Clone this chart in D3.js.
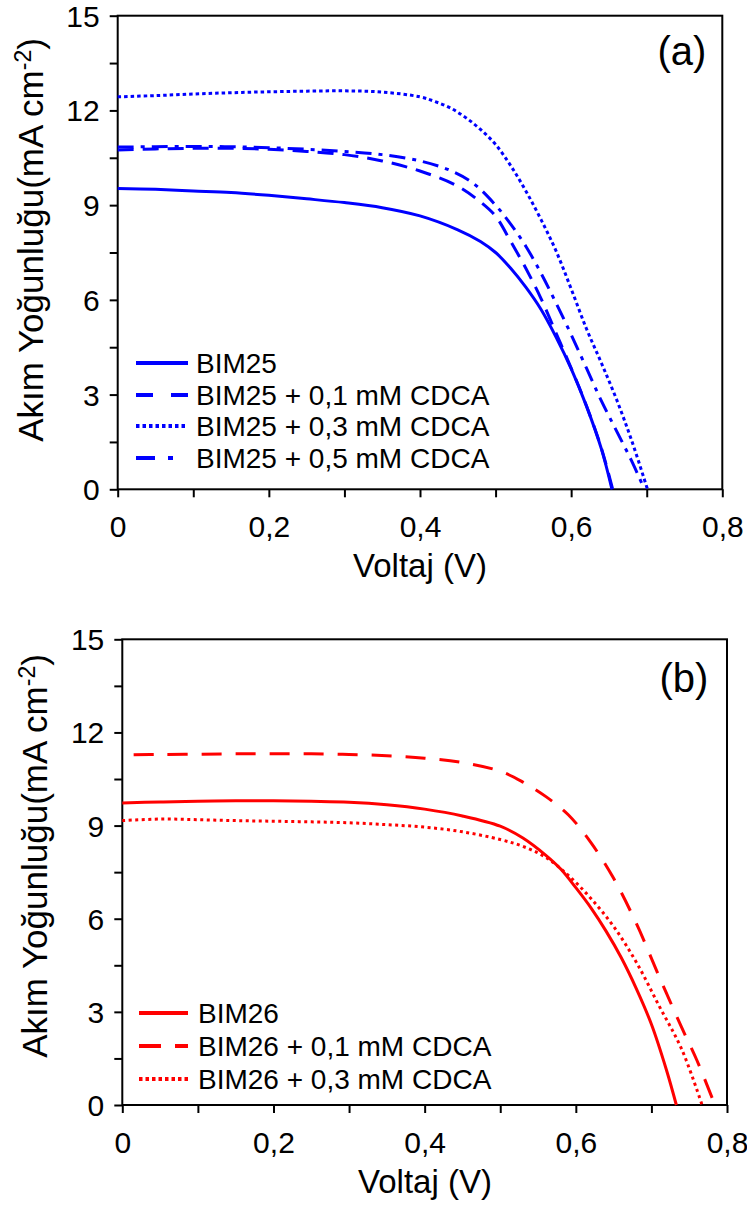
<!DOCTYPE html>
<html><head><meta charset="utf-8">
<script src="https://cdn.jsdelivr.net/npm/d3@7"></script>
<style>body{margin:0;background:#fff}svg{display:block}text{font-family:"Liberation Sans",Arial,sans-serif;fill:#000}</style>
</head><body>
<script>
// ---- data ----
const yTicks = [0, 3, 6, 9, 12, 15];
const yMinorTicks = [1.5, 4.5, 7.5, 10.5, 13.5];
const xTicks = [0, 0.2, 0.4, 0.6, 0.8];
const xTickLabels = ["0", "0,2", "0,4", "0,6", "0,8"];
const xMinorTicks = [0.1, 0.3, 0.5, 0.7];

// panel (a)
const vBIM25 = [0, 0.05, 0.10, 0.15, 0.20, 0.25, 0.30, 0.35, 0.40, 0.45, 0.48, 0.50, 0.52, 0.54, 0.56, 0.58, 0.60, 0.62, 0.64, 0.654];
const jBIM25 = [9.53, 9.50, 9.45, 9.40, 9.31, 9.20, 9.08, 8.92, 8.66, 8.22, 7.85, 7.50, 7.00, 6.40, 5.70, 4.82, 3.82, 2.65, 1.28, 0];
const vBIM25_01 = [0, 0.05, 0.10, 0.15, 0.20, 0.25, 0.30, 0.35, 0.40, 0.45, 0.48, 0.50, 0.52, 0.54, 0.56, 0.58, 0.60, 0.62, 0.64, 0.655];
const jBIM25_01 = [10.75, 10.78, 10.80, 10.80, 10.77, 10.70, 10.60, 10.40, 10.08, 9.60, 9.10, 8.65, 7.85, 7.00, 6.05, 4.95, 3.84, 2.66, 1.30, 0];
const vBIM25_03 = [0, 0.05, 0.10, 0.15, 0.20, 0.25, 0.30, 0.35, 0.40, 0.42, 0.44, 0.46, 0.48, 0.50, 0.52, 0.54, 0.56, 0.58, 0.60, 0.62, 0.64, 0.66, 0.68, 0.701];
const jBIM25_03 = [12.43, 12.47, 12.52, 12.56, 12.59, 12.61, 12.62, 12.58, 12.43, 12.28, 12.08, 11.78, 11.40, 10.92, 10.25, 9.45, 8.55, 7.55, 6.35, 5.10, 4.00, 2.85, 1.55, 0];
const vBIM25_05 = [0, 0.05, 0.10, 0.15, 0.20, 0.25, 0.30, 0.35, 0.40, 0.44, 0.47, 0.50, 0.52, 0.54, 0.56, 0.58, 0.60, 0.62, 0.64, 0.66, 0.68, 0.697];
const jBIM25_05 = [10.84, 10.85, 10.86, 10.85, 10.82, 10.77, 10.70, 10.60, 10.40, 10.10, 9.70, 9.00, 8.40, 7.70, 6.85, 5.90, 4.90, 3.85, 2.80, 1.85, 0.90, 0];

// panel (b)
const vBIM26 = [0, 0.05, 0.10, 0.15, 0.20, 0.25, 0.30, 0.35, 0.40, 0.45, 0.50, 0.53, 0.56, 0.58, 0.60, 0.62, 0.64, 0.66, 0.68, 0.70, 0.72, 0.733];
const jBIM26 = [9.73, 9.76, 9.78, 9.80, 9.80, 9.78, 9.75, 9.67, 9.53, 9.31, 8.98, 8.60, 8.05, 7.60, 7.00, 6.35, 5.60, 4.75, 3.75, 2.60, 1.12, 0];
const vBIM26_01 = [0.015, 0.05, 0.10, 0.15, 0.20, 0.25, 0.30, 0.35, 0.40, 0.45, 0.50, 0.53, 0.56, 0.59, 0.62, 0.65, 0.68, 0.71, 0.74, 0.76, 0.784];
const jBIM26_01 = [11.28, 11.29, 11.30, 11.31, 11.31, 11.31, 11.29, 11.25, 11.17, 11.03, 10.75, 10.40, 9.94, 9.35, 8.45, 7.30, 5.85, 4.15, 2.50, 1.45, 0];
const vBIM26_03 = [0, 0.05, 0.10, 0.15, 0.20, 0.25, 0.30, 0.35, 0.40, 0.45, 0.50, 0.53, 0.56, 0.59, 0.62, 0.65, 0.68, 0.71, 0.74, 0.767];
const jBIM26_03 = [9.16, 9.21, 9.19, 9.16, 9.14, 9.12, 9.09, 9.03, 8.95, 8.80, 8.55, 8.33, 7.98, 7.40, 6.65, 5.75, 4.60, 3.20, 1.80, 0];

const namesA = ["BIM25", "BIM25 + 0,1 mM CDCA", "BIM25 + 0,3 mM CDCA", "BIM25 + 0,5 mM CDCA"];
const namesB = ["BIM26", "BIM26 + 0,1 mM CDCA", "BIM26 + 0,3 mM CDCA"];

// ---- drawing ----
const svg = d3.select("body").append("svg").attr("width", 747).attr("height", 1209);

const dashSolid = null, dashDash = "16 9", dashDot = "3.5 3", dashDashDot = "16 7 4 7";

function panel(cfg) {
  const x = d3.scaleLinear().domain([0, 0.8]).range([cfg.left, cfg.right]);
  const y = d3.scaleLinear().domain([0, 15]).range([cfg.bottom, cfg.top]);
  const g = svg.append("g");

  const ya = d3.axisLeft(y).tickValues(yTicks.concat(yMinorTicks)).tickSize(8).tickSizeOuter(0)
    .tickFormat(d => yTicks.includes(d) ? String(d) : "");
  const yg = g.append("g").attr("transform", `translate(${cfg.left},0)`).call(ya);
  yg.select(".domain").remove();
  yg.selectAll(".tick line").attr("stroke", "#000").attr("stroke-width", 2);
  yg.selectAll(".tick text").attr("font-size", 30).attr("x", -18).attr("dy", "0.35em")
    .style("font-family", '"Liberation Sans",Arial,sans-serif');

  const xa = d3.axisBottom(x).tickValues(xTicks.concat(xMinorTicks)).tickSize(8).tickSizeOuter(0)
    .tickFormat(d => { const i = xTicks.indexOf(d); return i >= 0 ? xTickLabels[i] : ""; });
  const xg = g.append("g").attr("transform", `translate(0,${cfg.bottom})`).call(xa);
  xg.select(".domain").remove();
  xg.selectAll(".tick line").attr("stroke", "#000").attr("stroke-width", 2);
  xg.selectAll(".tick text").attr("font-size", 30).attr("y", 48).attr("dy", 0)
    .style("font-family", '"Liberation Sans",Arial,sans-serif');

  g.append("rect").attr("x", cfg.left).attr("y", cfg.top)
    .attr("width", cfg.right - cfg.left).attr("height", cfg.bottom - cfg.top)
    .attr("fill", "none").attr("stroke", "#000").attr("stroke-width", 2);

  const line = d3.line().x(d => x(d[0])).y(d => y(d[1])).curve(d3.curveCatmullRom.alpha(0.5));
  cfg.series.forEach(s => {
    const pts = s.v.map((v, i) => [v, s.j[i]]);
    g.append("path").attr("d", line(pts)).attr("fill", "none")
      .attr("stroke", cfg.color).attr("stroke-width", 3)
      .attr("stroke-dasharray", s.dash);
  });

  cfg.series.forEach((s, i) => {
    const ly = cfg.legY[i];
    g.append("line").attr("x1", cfg.legX1).attr("x2", cfg.legX2).attr("y1", ly).attr("y2", ly)
      .attr("stroke", cfg.color).attr("stroke-width", 4).attr("stroke-dasharray", s.legDash);
    g.append("text").attr("x", cfg.legText).attr("y", ly + 10).attr("font-size", 28).text(s.name);
  });

  g.append("text").attr("x", cfg.labX).attr("y", cfg.labY).attr("text-anchor", "middle")
    .attr("font-size", 40).text(cfg.label);

  g.append("text").attr("x", cfg.xtX).attr("y", cfg.bottom + 88).attr("text-anchor", "middle")
    .attr("font-size", 33).text("Voltaj (V)");
  const yt = g.append("text").attr("transform", `translate(${cfg.ytX},${cfg.ytY}) rotate(-90)`)
    .attr("text-anchor", "middle").attr("font-size", 35);
  yt.append("tspan").text("Akım Yoğunluğu(mA cm");
  yt.append("tspan").attr("dy", -12).attr("font-size", 23).text("-2");
  yt.append("tspan").attr("dy", 12).text(")");
}

panel({
  left: 117.7, right: 722.3, top: 15.7, bottom: 489.3, color: "#0000ff", label: "(a)",
  labX: 682, labY: 65, xtX: 420, ytX: 43, ytY: 240,
  legX1: 136, legX2: 188, legText: 196, legY: [363, 395, 426, 458],
  series: [
    { v: vBIM25, j: jBIM25, dash: dashSolid, legDash: null, name: namesA[0] },
    { v: vBIM25_01, j: jBIM25_01, dash: dashDash, legDash: "17 18", name: namesA[1] },
    { v: vBIM25_03, j: jBIM25_03, dash: dashDot, legDash: "3.5 3", name: namesA[2] },
    { v: vBIM25_05, j: jBIM25_05, dash: dashDashDot, legDash: "19 13 5 40", name: namesA[3] }
  ]
});

panel({
  left: 122.3, right: 727, top: 639.3, bottom: 1105, color: "#ff0000", label: "(b)",
  labX: 684, labY: 692, xtX: 425, ytX: 47, ytY: 856,
  legX1: 139, legX2: 188, legText: 198, legY: [1013, 1046, 1079],
  series: [
    { v: vBIM26, j: jBIM26, dash: dashSolid, legDash: null, name: namesB[0] },
    { v: vBIM26_01, j: jBIM26_01, dash: "20 14", legDash: "22 14", name: namesB[1] },
    { v: vBIM26_03, j: jBIM26_03, dash: "3 3.5", legDash: "3.5 3", name: namesB[2] }
  ]
});
</script>
</body></html>
